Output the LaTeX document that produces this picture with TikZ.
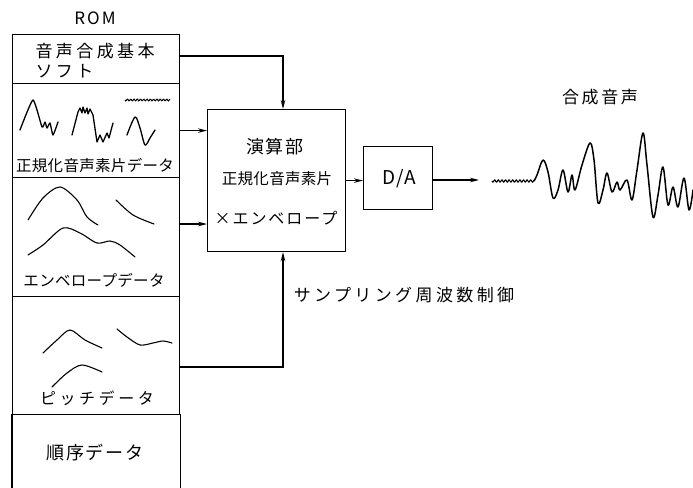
\documentclass[tikz,border=0pt]{standalone}
\usepackage{fontspec}
\newfontfamily\jp{Noto Sans CJK JP}
\usetikzlibrary{arrows.meta}
\newcommand\jtxt[3]{{\fontsize{#1}{#1}\selectfont\jp\addfontfeatures{LetterSpace=#2}#3}}
\begin{document}
\begin{tikzpicture}[x=1pt,y=-1pt, line width=1.2pt,
  arr/.style={-{Stealth[length=9pt,width=4.5pt]}},
  sec/.style={draw, anchor=north west, minimum width=167pt, inner sep=0pt},
  lbl/.style={inner sep=0pt},
  box/.style={draw, anchor=north west, inner sep=0pt},
  wave/.style={line width=1.3pt, line join=round, line cap=round},
  thin wave/.style={line width=1.1pt, line cap=round}]
\useasboundingbox (0,0) rectangle (693,487);

% ROM column
\node[lbl] (rom) at (95,18) {\jtxt{17}{12}{ROM}};
\node[sec, minimum height=49pt] (soft) at (12,34) {};
\node[sec, minimum height=94pt] (norm) at (12,83) {};
\node[sec, minimum height=119pt] (env) at (12,177) {};
\node[sec, minimum height=118pt] (pitch) at (12,296) {};
\node[anchor=north west, minimum width=167pt, minimum height=80pt, inner sep=0pt] (seq) at (12,414) {};
\draw (seq.north west) -- (seq.south west);
\draw (seq.north east) -- (seq.south east);

\node[lbl, anchor=west] (t1) at (35,51) {\jtxt{17}{20}{音声合成基本}};
\node[lbl, anchor=west] (t2) at (35,71) {\jtxt{17}{20}{ソフト}};
\node[lbl] (t3) at (95,166) {\jtxt{15.5}{2}{正規化音声素片データ}};
\node[lbl] (t4) at (94,280) {\jtxt{15.5}{2}{エンベロープデータ}};
\node[lbl] (t5) at (97,398) {\jtxt{16}{22}{ピッチデータ}};
\node[lbl] (t6) at (95,453) {\jtxt{18}{10}{順序データ}};

% waveforms in normalized section
\draw[wave] plot[smooth, tension=0.3] coordinates {(20,130) (33,100) (42,127) (45,122) (47,128) (50,123) (53,135) (58,122)};
\draw[wave] plot[tension=0.3] coordinates {(72,135) (78,112) (80,108) (82,113) (83,107) (85,113) (87,108) (88,114) (90,109) (93,115) (97,142) (100,135) (103,142) (107,133) (109,138) (113,123)};
\draw[line width=1pt] plot[domain=0:45, samples=60] ({125+\x},{100+0.9*sin(\x*110)});
\draw[wave] plot[smooth, tension=0.5] coordinates {(127,135) (135,117) (140,128) (145,145) (150,138) (155,130)};

% envelope curves
\draw[thin wave] plot[smooth] coordinates {(28,220) (43,198) (60,187) (77,200) (87,217) (98,225)};
\draw[thin wave] plot[smooth] coordinates {(116,200) (133,215) (154,224)};
\draw[thin wave] plot[smooth] coordinates {(28,255) (43,245) (63,228) (80,233) (97,243) (110,241) (120,245) (135,257)};

% pitch curves
\draw[thin wave] plot[smooth] coordinates {(43,353) (57,340) (70,330) (85,340) (102,348)};
\draw[thin wave] plot[smooth] coordinates {(117,329) (127,337) (140,345) (153,343) (163,341) (172,343)};
\draw[thin wave] plot[smooth] coordinates {(52,387) (67,373) (82,365) (102,372)};

% operation box
\node[box, minimum width=138pt, minimum height=142pt] (calc) at (207,109) {};
\node[lbl] (c1) at (275,147) {\jtxt{18}{10}{演算部}};
\node[lbl] (c2) at (277,179) {\jtxt{15.5}{2}{正規化音声素片}};
\node[lbl] (c3) at (276,218) {\jtxt{16}{12}{×エンベロープ}};

% D/A
\node[box, minimum width=69pt, minimum height=63pt] (da) at (363,146) {};
\node[lbl] (dat) at (399,179) {\jtxt{19}{6}{D/A}};

% arrows
\draw[arr] (soft.east |- 0,56) -| (calc.north -| 283,0);
\draw[arr] (norm.east) -- (calc.west |- norm.east);
\draw[arr] (env.east |- 0,224) -- (calc.west |- 0,224);
\draw[arr] (pitch.east |- 0,367) -| (calc.south -| 283,0);
\draw[arr] (calc.east) -- (da.west |- calc.east);
\coordinate (out) at (479,180);
\draw[arr] (da.east |- out) -- (out);

\node[lbl] (samp) at (404,295) {\jtxt{17}{20}{サンプリング周波数制御}};
\node[lbl] (synth) at (600,97) {\jtxt{17}{15}{合成音声}};

% synthesized waveform
\draw[line width=1.1pt] plot[domain=0:42, samples=80] ({492+\x},{181+1.1*sin(\x*100)});
\draw[wave, line width=1.5pt] plot[smooth, tension=0.55] coordinates {(534,181) (537,175) (543,160) (548,172) (553,198) (558,190) (563,170) (568,192) (572,175) (575,190) (582,165) (590,143) (594,160) (598,203) (603,190) (607,173) (612,192) (617,182) (620,190) (627,180) (632,200) (637,170) (643,133) (647,165) (653,217) (658,195) (663,167) (668,205) (673,187) (678,207) (684,178) (689,210) (693,190)};
\end{tikzpicture}
\end{document}
